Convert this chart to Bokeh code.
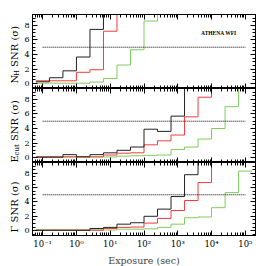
import math
from bokeh.plotting import figure
from bokeh.models import (Range1d, LinearAxis, LogAxis, FixedTicker, SingleIntervalTicker,
                          CustomJSTickFormatter, Label)
from bokeh.layouts import column, row
from bokeh.core.properties import value
from bokeh.embed import file_html
from bokeh.resources import INLINE

# ---- data ----
exposure_log_edges = [-1.2, -0.8, -0.4, 0.0, 0.4, 0.8, 1.2, 1.6, 2.0,
                      2.4, 2.8, 3.2, 3.6, 4.0, 4.4, 4.8, 5.2]
exposure_edges = [10 ** e for e in exposure_log_edges]

nh_black = [0.25, 0.8, 1.75, 3.65, 7.45, 11.8, 18.5, 29, 45, 70, 110, 170, 260, 400, 600, 900]
nh_red = [0.38, 0.38, 0.38, 1.55, 1.9, 7.2, 11.5, 18, 28, 44, 70, 110, 170, 260, 400, 620]
nh_green = [0.05, 0.05, 0.05, 0.05, 0.2, 0.7, 2.55, 4.65, 8.6, 13.5, 21, 33, 52, 82, 130, 205]

ecut_black = [0.05, 0.05, 0.4, 0.1, 0.4, 0.65, 1.0, 1.45, 3.9, 3.6, 5.7, 10.5, 16, 25, 40, 63]
ecut_red = [0.1, 0.1, 0.1, 0.1, 0.1, 0.35, 0.6, 0.65, 1.75, 2.3, 3.1, 5.6, 8.3, 13, 20, 31]
ecut_green = [0.08, 0.08, 0.08, 0.08, 0.08, 0.08, 0.2, 0.25, 0.3, 0.35, 1.1, 1.45, 2.55, 4.0, 7.0, 11.5]

gamma_black = [0.05, 0.05, 0.05, 0.05, 0.3, 0.45, 0.9, 1.1, 2.0, 3.0, 4.75, 7.8, 12, 19, 30, 47]
gamma_red = [0.05, 0.05, 0.05, 0.05, 0.05, 0.3, 0.45, 0.5, 1.05, 1.7, 2.8, 4.2, 6.7, 10.5, 16.5, 26]
gamma_green = [0.1, 0.1, 0.1, 0.1, 0.1, 0.1, 0.2, 0.2, 0.25, 0.45, 0.9, 1.8, 1.9, 3.2, 5.3, 8.3]

threshold_sigma = 5
threshold_exposure = [0.1, 1e5]

x_major = [10.0 ** k for k in range(-1, 6)]
x_minor = [m * 10.0 ** k for k in range(-2, 6) for m in range(2, 10)]

COLORS = {"black": "#222222", "red": "#f23c3c", "green": "#7fcc5c"}
FONT = "DejaVu Serif"

sup_fmt = CustomJSTickFormatter(code="""
const e = Math.round(Math.log10(tick));
const s = {"-":"\u207b","0":"\u2070","1":"\u00b9","2":"\u00b2","3":"\u00b3",
           "4":"\u2074","5":"\u2075","6":"\u2076","7":"\u2077","8":"\u2078","9":"\u2079"};
return "10" + String(e).split("").map(c => s[c]).join("");
""")


def style_axis(ax, labels=True):
    ax.major_tick_in = 5
    ax.major_tick_out = 0
    ax.minor_tick_in = 3
    ax.minor_tick_out = 0
    ax.axis_line_color = "black"
    ax.major_tick_line_color = "black"
    ax.minor_tick_line_color = "black"
    ax.axis_line_width = 1
    if labels:
        ax.major_label_text_font = FONT
        ax.major_label_text_font_size = "8px"
        ax.major_label_text_color = "black"
    else:
        ax.major_label_text_font_size = "1px"
        ax.major_label_text_alpha = 0
        ax.major_label_standoff = 0


def make_panel(series, frame_h, top_border, show_x):
    p = figure(x_axis_type="log", x_range=Range1d(0.05, 2e5), y_range=Range1d(-0.68, 9.5),
               frame_width=223, frame_height=frame_h, output_backend="svg",
               toolbar_location=None, min_border=0, min_border_left=8, min_border_right=6,
               min_border_top=top_border, min_border_bottom=0)
    p.grid.visible = False
    p.outline_line_color = "black"
    p.outline_line_width = 1

    xb = p.xaxis[0]
    xb.ticker = FixedTicker(ticks=x_major, minor_ticks=x_minor)
    if show_x:
        style_axis(xb, True)
        xb.formatter = sup_fmt
        xb.major_label_text_font_size = "8.5px"
        xb.major_label_standoff = 3
        xb.axis_label = "Exposure (sec)"
        xb.axis_label_text_font = FONT
        xb.axis_label_text_font_size = "9.5px"
        xb.axis_label_text_font_style = "normal"
        xb.axis_label_standoff = 3
    else:
        style_axis(xb, False)

    yl = p.yaxis[0]
    yl.ticker = SingleIntervalTicker(interval=2, num_minor_ticks=4)
    style_axis(yl, True)
    yl.major_label_standoff = 3

    top = LogAxis(ticker=FixedTicker(ticks=x_major, minor_ticks=x_minor))
    style_axis(top, False)
    p.add_layout(top, "above")
    right = LinearAxis(ticker=SingleIntervalTicker(interval=2, num_minor_ticks=4))
    style_axis(right, False)
    p.add_layout(right, "right")

    for vals, col in series:
        p.step(x=exposure_edges, y=vals + [vals[-1]], mode="after",
               line_color=COLORS[col], line_width=1)
    p.segment(x0=[threshold_exposure[0]], y0=[threshold_sigma],
              x1=[threshold_exposure[1]], y1=[threshold_sigma],
              line_color="black", line_width=1, line_dash="1 1")
    return p


p1 = make_panel([(nh_green, "green"), (nh_red, "red"), (nh_black, "black")], 74, 14, False)
p2 = make_panel([(ecut_green, "green"), (ecut_red, "red"), (ecut_black, "black")], 74, 0, False)
p3 = make_panel([(gamma_green, "green"), (gamma_red, "red"), (gamma_black, "black")], 73, 0, True)

p1.add_layout(Label(x=5.5e4, y=6.9, text="ATHENA WFI", text_align="right",
                    text_baseline="middle", text_font="Liberation Serif",
                    text_font_size="5.5px", text_font_style="bold", text_color="black"))

# ---- strip holding the rotated y-axis titles (with subscripts) ----
H = 262
ylab = figure(width=21, height=H, x_range=Range1d(0, 21), y_range=Range1d(0, H),
              output_backend="svg", toolbar_location=None, min_border=0,
              x_axis_location=None, y_axis_location=None)
ylab.grid.visible = False
ylab.outline_line_color = None


def vtext(x, top_y, text, size):
    ylab.text(x=[x], y=[H - top_y], text=[text], angle=math.pi / 2,
              text_font=value(FONT), text_font_size=value(size), text_color="black",
              text_align="left", text_baseline="alphabetic")


vtext(13.5, 83, "N", "10px")
vtext(16, 75.5, "H", "7px")
vtext(13.5, 66.4, "SNR (\u03c3)", "10px")

vtext(13.5, 162, "E", "10px")
vtext(16, 154.9, "cut", "7px")
vtext(13.5, 140.5, "SNR (\u03c3)", "10px")

vtext(13.5, 232, "\u0393 SNR (\u03c3)", "10px")

layout = row(ylab, column(p1, p2, p3, spacing=0), spacing=0)
open("out.html", "w").write(file_html(layout, INLINE))
